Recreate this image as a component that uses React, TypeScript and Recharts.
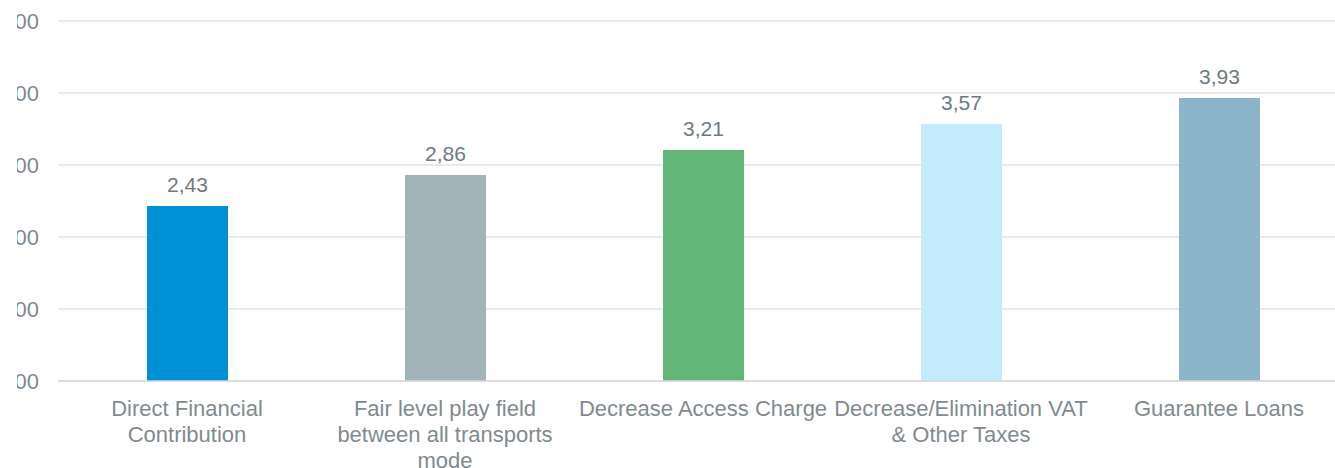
import React from 'react';
import { BarChart, Bar, XAxis, YAxis, CartesianGrid, Cell, LabelList, Text } from 'recharts';

const categories = [
  'Direct Financial Contribution',
  'Fair level play field between all transports mode',
  'Decrease Access Charge',
  'Decrease/Elimination VAT & Other Taxes',
  'Guarantee Loans',
];
const scores = [2.43, 2.86, 3.21, 3.57, 3.93];
const barColors = ['#0090D5', '#A2B3B9', '#63B677', '#C4EBFB', '#8DB5C9'];
const yTicks = [0, 1, 2, 3, 4, 5];

const FONT = '"Liberation Sans", Arial, sans-serif';
const AXIS_TEXT = '#7F8B90';
const LABEL_TEXT = '#6E7A80';

const fmt = (v: number) => v.toFixed(2).replace('.', ',');

const chartData = categories.map((name, i) => ({ name, value: scores[i] }));

// the measuring span needs a px string, a bare number is dropped
const CategoryTick = ({ x, y, payload }: any) => (
  <Text
    x={x}
    y={y}
    width={262}
    textAnchor="middle"
    verticalAnchor="start"
    lineHeight={26}
    fontSize={22}
    fontFamily={FONT}
    fill={AXIS_TEXT}
    style={{ fontSize: '22px', fontFamily: FONT }}
  >
    {payload.value}
  </Text>
);

const App: React.FC = () => {
  return (
    <div style={{ position: 'absolute', left: 17, top: 0, width: 1318, height: 468, overflow: 'hidden', background: '#fff' }}>
      <div style={{ position: 'absolute', left: -17, top: 0 }}>
        <BarChart width={1348} height={468} data={chartData} margin={{ top: 21, right: 0, left: 0, bottom: 7 }}>
          <CartesianGrid vertical={false} stroke="#E2E2E2" strokeWidth={1.5} />
          <XAxis
            dataKey="name"
            interval={0}
            height={80}
            tickSize={0}
            tickMargin={19}
            axisLine={{ stroke: '#D9D9D9', strokeWidth: 1.5 }}
            tickLine={false}
            tick={<CategoryTick />}
          />
          <YAxis
            domain={[0, 5]}
            ticks={yTicks}
            width={58}
            tickSize={0}
            tickMargin={19}
            axisLine={false}
            tickLine={false}
            tickFormatter={fmt}
            tick={{ fontSize: 22, fontFamily: FONT, fill: AXIS_TEXT }}
          />
          <Bar dataKey="value" barSize={81} isAnimationActive={false}>
            {chartData.map((entry, index) => (
              <Cell key={`cell-${index}`} fill={barColors[index]} />
            ))}
            <LabelList
              dataKey="value"
              position="top"
              offset={14}
              formatter={(v: any) => fmt(Number(v))}
              style={{ fontSize: 21, fontFamily: FONT, fill: LABEL_TEXT }}
            />
          </Bar>
        </BarChart>
      </div>
    </div>
  );
};

export default App;
